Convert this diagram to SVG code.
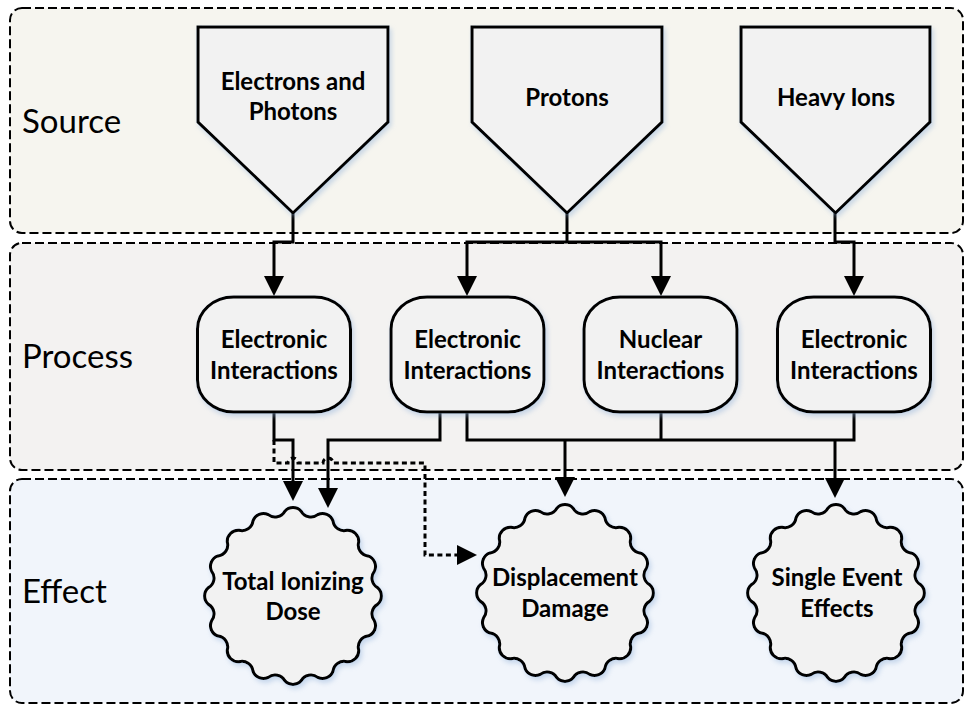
<svg xmlns="http://www.w3.org/2000/svg" xmlns:xlink="http://www.w3.org/1999/xlink" width="966" height="706" viewBox="0 0 966 706">
<style>
.band{stroke:#000;stroke-width:2;stroke-dasharray:9 4;}
.shape{fill:#f2f2f2;stroke:#000;stroke-width:3;stroke-linejoin:miter;filter:url(#sh);}
.lbl{font-family:Lato,"Open Sans","Liberation Sans",sans-serif;font-size:33px;fill:#000;}
.txt{font-family:Lato,"Open Sans","Liberation Sans",sans-serif;font-size:24px;font-weight:bold;fill:#000;text-anchor:middle;}
.conn path{fill:none;stroke:#000;stroke-width:3;}
.conn path.arr{marker-end:url(#arrow);}
.conn path.dot{stroke-dasharray:5 3.5;}
</style>
<defs>
<filter id="sh" x="-10%" y="-10%" width="125%" height="125%">
<feDropShadow dx="2" dy="3" stdDeviation="2.5" flood-color="#8fb0d8" flood-opacity="0.45"/>
</filter>
<marker id="arrow" viewBox="0 0 20 20" markerUnits="userSpaceOnUse" markerWidth="20" markerHeight="20" refX="16" refY="10" orient="auto">
<path d="M0,0 L20,10 L0,20 Z" fill="#000"/>
</marker>
<path id="wavy" d="M-8.33,-84.59 A11,11 0 0 1 8.33,-84.59 A11,11 0 0 0 24.67,-81.34 A11,11 0 0 1 40.07,-74.96 A11,11 0 0 0 53.92,-65.71 A11,11 0 0 1 65.71,-53.92 A11,11 0 0 0 74.96,-40.07 A11,11 0 0 1 81.34,-24.67 A11,11 0 0 0 84.59,-8.33 A11,11 0 0 1 84.59,8.33 A11,11 0 0 0 81.34,24.67 A11,11 0 0 1 74.96,40.07 A11,11 0 0 0 65.71,53.92 A11,11 0 0 1 53.92,65.71 A11,11 0 0 0 40.07,74.96 A11,11 0 0 1 24.67,81.34 A11,11 0 0 0 8.33,84.59 A11,11 0 0 1 -8.33,84.59 A11,11 0 0 0 -24.67,81.34 A11,11 0 0 1 -40.07,74.96 A11,11 0 0 0 -53.92,65.71 A11,11 0 0 1 -65.71,53.92 A11,11 0 0 0 -74.96,40.07 A11,11 0 0 1 -81.34,24.67 A11,11 0 0 0 -84.59,8.33 A11,11 0 0 1 -84.59,-8.33 A11,11 0 0 0 -81.34,-24.67 A11,11 0 0 1 -74.96,-40.07 A11,11 0 0 0 -65.71,-53.92 A11,11 0 0 1 -53.92,-65.71 A11,11 0 0 0 -40.07,-74.96 A11,11 0 0 1 -24.67,-81.34 A11,11 0 0 0 -8.33,-84.59 Z"/>
</defs>
<rect width="966" height="706" fill="#ffffff"/>
<g id="band-source">
<rect class="band" x="10" y="8" width="953" height="225" rx="12" fill="#f6f5ef"/>
<text class="lbl" x="22" y="133">Source</text>
</g>
<g id="band-process">
<rect class="band" x="10" y="243" width="953" height="227" rx="12" fill="#f3f2f1"/>
<text class="lbl" x="22" y="368">Process</text>
</g>
<g id="band-effect">
<rect class="band" x="10" y="479" width="953" height="224" rx="12" fill="#f1f5fb"/>
<text class="lbl" x="22" y="603">Effect</text>
</g>
<g class="conn" id="connectors">
<path class="arr" d="M293 213 V242 H274 V292"/>
<path d="M567 213 V242"/>
<path class="arr" d="M567 242 H467 V292"/>
<path class="arr" d="M567 242 H661 V292"/>
<path class="arr" d="M835 213 V242 H854 V292"/>
<path class="arr" d="M274 412 V440 H293 V497"/>
<path class="arr" d="M440 412 V440 H328 V504"/>
<path d="M467 412 V440 H854 V412"/>
<path d="M661 412 V440"/>
<path class="arr" d="M565 440 V493"/>
<path class="arr" d="M835 440 V494"/>
<path class="arr dot" d="M274 440 V463 H288 A5 5 0 0 1 298 463 H323 A5 5 0 0 1 333 463 H425 V555 H473"/>
</g>
<g id="src-electrons">
<path class="shape" d="M198 27 H388 V122 L293 213 L198 122 Z"/>
<text class="txt" x="293" y="90">Electrons and</text>
<text class="txt" x="293" y="120">Photons</text>
</g>
<g id="src-protons">
<path class="shape" d="M472 27 H662 V122 L567 213 L472 122 Z"/>
<text class="txt" x="567" y="106">Protons</text>
</g>
<g id="src-heavy">
<path class="shape" d="M741 27 H930 V122 L835.5 213 L741 122 Z"/>
<text class="txt" x="836" y="106">Heavy Ions</text>
</g>
<g id="proc-electronic-1">
<rect class="shape" x="197.5" y="297" width="153" height="115" rx="36" ry="32"/>
<text class="txt" x="274" y="348">Electronic</text>
<text class="txt" x="274" y="379">Interactions</text>
</g>
<g id="proc-electronic-2">
<rect class="shape" x="391" y="297" width="153" height="115" rx="36" ry="32"/>
<text class="txt" x="467.5" y="348">Electronic</text>
<text class="txt" x="467.5" y="379">Interactions</text>
</g>
<g id="proc-nuclear">
<rect class="shape" x="584" y="297" width="153" height="115" rx="36" ry="32"/>
<text class="txt" x="660.5" y="348">Nuclear</text>
<text class="txt" x="660.5" y="379">Interactions</text>
</g>
<g id="proc-electronic-3">
<rect class="shape" x="777.5" y="297" width="153" height="115" rx="36" ry="32"/>
<text class="txt" x="854" y="348">Electronic</text>
<text class="txt" x="854" y="379">Interactions</text>
</g>
<g id="eff-tid">
<use xlink:href="#wavy" class="shape" transform="translate(293,596)"/>
<text class="txt" x="293" y="590">Total Ionizing</text>
<text class="txt" x="293" y="620">Dose</text>
</g>
<g id="eff-dd">
<use xlink:href="#wavy" class="shape" transform="translate(565,593)"/>
<text class="txt" x="565" y="586">Displacement</text>
<text class="txt" x="565" y="617">Damage</text>
</g>
<g id="eff-see">
<use xlink:href="#wavy" class="shape" transform="translate(836,593)"/>
<text class="txt" x="837" y="586">Single Event</text>
<text class="txt" x="837" y="617">Effects</text>
</g>
</svg>
